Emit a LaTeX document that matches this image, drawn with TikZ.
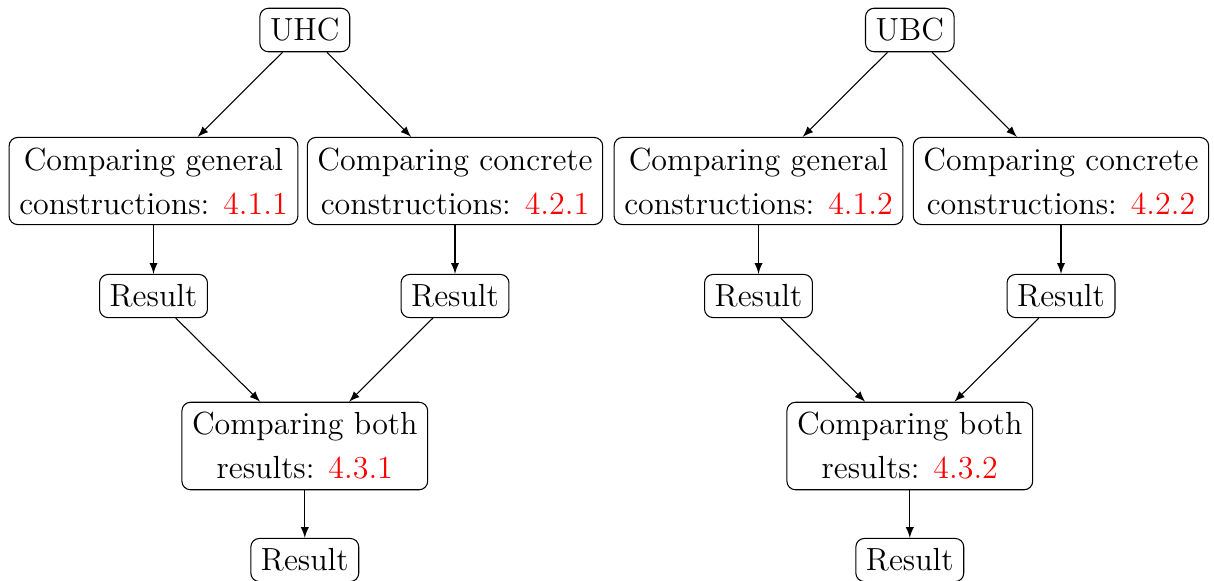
\documentclass[tikz,border=0pt]{standalone}
\usetikzlibrary{arrows}
\begin{document}
\begin{tikzpicture}[x=0.375pt,y=-0.375pt,
  box/.style={draw,rounded corners=3.2pt,align=center,inner sep=3.8pt,
    font=\fontsize{12}{16.5}\selectfont},
  conn/.style={-latex}]
\useasboundingbox (0,0) rectangle (1214,580);
% left
\node[box] (uhc) at (304.8,30) {UHC};
\node[box] (g1) at (153.5,181) {Comparing general\\constructions: \textcolor{red}{4.1.1}};
\node[box] (c1) at (455,181) {Comparing concrete\\constructions: \textcolor{red}{4.2.1}};
\node[box] (r1) at (153.5,296) {Result};
\node[box] (r2) at (455,296) {Result};
\node[box] (b1) at (304.8,446) {Comparing both\\results: \textcolor{red}{4.3.1}};
\node[box] (f1) at (304.8,560) {Result};
% right
\node[box] (ubc) at (909.8,30) {UBC};
\node[box] (g2) at (758.5,181) {Comparing general\\constructions: \textcolor{red}{4.1.2}};
\node[box] (c2) at (1061,181) {Comparing concrete\\constructions: \textcolor{red}{4.2.2}};
\node[box] (r3) at (758.5,296) {Result};
\node[box] (r4) at (1061,296) {Result};
\node[box] (b2) at (909.8,446) {Comparing both\\results: \textcolor{red}{4.3.2}};
\node[box] (f2) at (909.8,560) {Result};
% connectors
\foreach \a/\b in {uhc/g1,uhc/c1,g1/r1,c1/r2,r1/b1,r2/b1,b1/f1,
                   ubc/g2,ubc/c2,g2/r3,c2/r4,r3/b2,r4/b2,b2/f2}
  \draw[conn] (\a) -- (\b);
\end{tikzpicture}
\end{document}
